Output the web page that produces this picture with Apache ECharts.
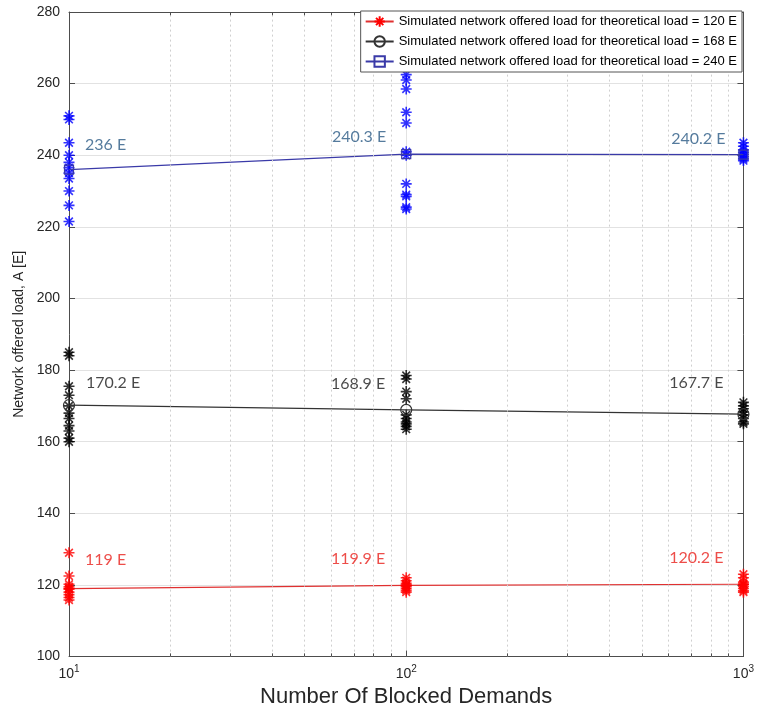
<!DOCTYPE html>
<html>
<head>
<meta charset="utf-8">
<script src="https://cdn.jsdelivr.net/npm/echarts@6/dist/echarts.min.js"></script>
<style>
html,body{margin:0;padding:0;background:#fff;}
#c{width:757px;height:713px;}
</style>
</head>
<body>
<div id="c"></div>
<script>
// ---- data ----
const demands = [10, 100, 1000];
const yTicks = [100, 120, 140, 160, 180, 200, 220, 240, 260, 280];
const minorX = [20, 30, 40, 50, 60, 70, 80, 90, 200, 300, 400, 500, 600, 700, 800, 900];

const mean120 = [119, 119.9, 120.2];
const mean168 = [170.2, 168.9, 167.7];
const mean240 = [236, 240.3, 240.2];

const runs120_10 = [129, 122.5, 120.2, 119.5, 118.8, 118, 117.3, 116.5, 115.8];
const runs120_100 = [122, 121.2, 120.5, 120, 119.5, 119, 118.5, 118];
const runs120_1000 = [123, 122, 120.8, 120.2, 119.6, 119, 118.4, 118];

const runs168_10 = [185, 184, 175.5, 173, 170, 168, 166.5, 164.5, 163, 161, 160];
const runs168_100 = [178.5, 177.5, 174, 172, 167.5, 166.5, 165.5, 165, 164.3, 163.5];
const runs168_1000 = [171, 170, 169.2, 168.3, 167.5, 166.5, 165.5, 165];

const runs240_10 = [251, 250, 243.5, 240, 238, 236.5, 235, 233.5, 230, 226, 221.5];
const runs240_100 = [262.5, 261, 258.5, 252, 249, 241, 240, 232, 229, 228.5, 225.5, 225];
const runs240_1000 = [243.5, 242.5, 241.5, 240.8, 240.2, 239.6, 239, 238.5];

const legendNames = [
  'Simulated network offered load for theoretical load = 120 E',
  'Simulated network offered load for theoretical load = 168 E',
  'Simulated network offered load for theoretical load = 240 E'
];

// ---- helpers ----
const STAR = 'path://M5,0L5,10M0,5L10,5M1.5,1.5L8.5,8.5M1.5,8.5L8.5,1.5';
function pts(xs, ys) { return xs.map((x, i) => [x, ys[i]]); }
function runPts(x, arr) { return arr.map(v => [x, v]); }

const C_RED = '#ff0000', C_RED_LINE = '#e03030';
const C_BLK = '#000000', C_BLK_LINE = '#333333';
const C_BLU = '#0000ff', C_BLU_LINE = '#3a3aa8';

function starSeries(name, color, data) {
  return {
    name: name, type: 'scatter', data: data, symbol: STAR, symbolSize: 11,
    clip: false, z: 3,
    itemStyle: { color: color, borderColor: color, borderWidth: 1.6 },
    emphasis: { disabled: true }
  };
}

// label placement (style): [position, dx, dy]
const lblPlace120 = [['right', 16, -29], ['left', -21, -26], ['left', -20, -26]];
const lblPlace168 = [['right', 17, -22], ['left', -21, -26], ['left', -20, -31]];
const lblPlace240 = [['right', 16, -25], ['left', -20, -17], ['left', -18, -16]];

function labelSeries(means, places, color) {
  return {
    type: 'scatter', silent: true, clip: false, z: 6,
    symbol: 'circle', symbolSize: 0.01,
    itemStyle: { color: 'rgba(0,0,0,0)' },
    data: means.map((v, i) => ({
      value: [demands[i], v],
      label: {
        show: true, position: places[i][0], distance: 0,
        offset: [places[i][1], places[i][2]],
        formatter: v + ' E', color: color,
        fontFamily: 'Lato', fontSize: 16
      }
    }))
  };
}

function minorGrid() {
  return minorX.map(x => ({ xAxis: x }));
}
function minorTickSegs() {
  const segs = [];
  minorX.forEach(x => {
    segs.push([{ coord: [x, 100] }, { coord: [x, 100.9] }]);
    segs.push([{ coord: [x, 279.1] }, { coord: [x, 280] }]);
  });
  return segs;
}

const chart = echarts.init(document.getElementById('c'), null, { renderer: 'canvas' });

const option = {
  animation: false,
  backgroundColor: '#fff',
  textStyle: { fontFamily: 'Liberation Sans' },
  grid: { left: 69, right: 12, top: 12, bottom: 56, containLabel: false },
  legend: {
    data: legendNames,
    orient: 'vertical', right: 15, top: 11,
    backgroundColor: '#fff', borderColor: '#555', borderWidth: 1,
    padding: [4, 5, 4, 4], itemGap: 7, itemWidth: 28, itemHeight: 13,
    textStyle: { fontFamily: 'Liberation Sans', fontSize: 13, color: '#000' },
    selectedMode: false, z: 10
  },
  xAxis: [{
    type: 'log', logBase: 10, min: 10, max: 1000,
    name: 'Number Of Blocked Demands', nameLocation: 'middle', nameGap: 28,
    nameTextStyle: { fontFamily: 'Liberation Sans', fontSize: 22, color: '#262626' },
    axisLine: { show: true, lineStyle: { color: '#4d4d4d', width: 1 } },
    axisTick: { show: true, inside: true, length: 6, lineStyle: { color: '#4d4d4d' } },
    axisLabel: {
      margin: 8, color: '#262626',
      formatter: v => '10{sup|' + Math.round(Math.log10(v)) + '}',
      rich: { sup: { fontSize: 10, padding: [0, 0, 9, 0], color: '#262626' } },
      fontSize: 14
    },
    splitLine: { show: true, lineStyle: { color: '#e2e2e2', width: 1 } }
  }, {
    type: 'log', logBase: 10, min: 10, max: 1000, position: 'top',
    axisLine: { show: true, lineStyle: { color: '#4d4d4d', width: 1 } },
    axisTick: { show: true, inside: true, length: 6, lineStyle: { color: '#4d4d4d' } },
    axisLabel: { show: false }, splitLine: { show: false }
  }],
  yAxis: [{
    type: 'value', min: 100, max: 280, interval: 20,
    name: 'Network offered load, A [E]', nameLocation: 'middle', nameGap: 40,
    nameTextStyle: { fontFamily: 'Liberation Sans', fontSize: 14, color: '#262626' },
    axisLine: { show: true, lineStyle: { color: '#4d4d4d', width: 1 } },
    axisTick: { show: true, inside: true, length: 6, lineStyle: { color: '#4d4d4d' } },
    axisLabel: { margin: 9, color: '#262626', fontSize: 14,
      formatter: v => (yTicks.indexOf(v) >= 0 ? String(v) : '') },
    splitLine: { show: true, lineStyle: { color: '#e2e2e2', width: 1 } }
  }, {
    type: 'value', min: 100, max: 280, interval: 20, position: 'right',
    axisLine: { show: true, lineStyle: { color: '#4d4d4d', width: 1 } },
    axisTick: { show: true, inside: true, length: 6, lineStyle: { color: '#4d4d4d' } },
    axisLabel: { show: false }, splitLine: { show: false }
  }],
  series: [
    // line series first so the legend takes its line+marker icon
    {
      name: legendNames[0], type: 'line', data: pts(demands, mean120), clip: false, z: 2,
      symbol: STAR, symbolSize: 11, showAllSymbol: true,
      lineStyle: { color: C_RED_LINE, width: 1.2 },
      itemStyle: { color: C_RED, borderColor: C_RED, borderWidth: 1.6 },
      emphasis: { disabled: true }
    },
    {
      name: legendNames[1], type: 'line', data: pts(demands, mean168), clip: false, z: 4,
      symbol: 'circle', symbolSize: 11, showAllSymbol: true,
      lineStyle: { color: C_BLK_LINE, width: 1.2 },
      itemStyle: { color: 'rgba(255,255,255,0)', borderColor: '#333', borderWidth: 1.2 },
      emphasis: { disabled: true }
    },
    {
      name: legendNames[2], type: 'line', data: pts(demands, mean240), clip: false, z: 4,
      symbol: 'rect', symbolSize: 9, showAllSymbol: true,
      lineStyle: { color: C_BLU_LINE, width: 1.2 },
      itemStyle: { color: 'rgba(255,255,255,0)', borderColor: C_BLU_LINE, borderWidth: 1.2 },
      emphasis: { disabled: true }
    },
    starSeries(legendNames[0], C_RED, runPts(10, runs120_10).concat(runPts(100, runs120_100), runPts(1000, runs120_1000))),
    starSeries(legendNames[1], C_BLK, runPts(10, runs168_10).concat(runPts(100, runs168_100), runPts(1000, runs168_1000))),
    starSeries(legendNames[2], C_BLU, runPts(10, runs240_10).concat(runPts(100, runs240_100), runPts(1000, runs240_1000))),
    // minor grid helper
    {
      type: 'line', data: [], silent: true, z: 1,
      markLine: {
        silent: true, symbol: ['none', 'none'], label: { show: false },
        lineStyle: { color: '#cfcfcf', type: [2, 3], width: 1 },
        emphasis: { disabled: true },
        data: minorGrid()
      }
    },
    {
      type: 'line', data: [], silent: true, z: 1,
      markLine: {
        silent: true, symbol: ['none', 'none'], label: { show: false },
        lineStyle: { color: '#4d4d4d', type: 'solid', width: 1 },
        emphasis: { disabled: true },
        data: minorTickSegs()
      }
    },
    labelSeries(mean120, lblPlace120, '#e8201c'),
    labelSeries(mean168, lblPlace168, '#1a1a1a'),
    labelSeries(mean240, lblPlace240, '#2b5a85')
  ]
};
chart.setOption(option);
</script>
</body>
</html>
